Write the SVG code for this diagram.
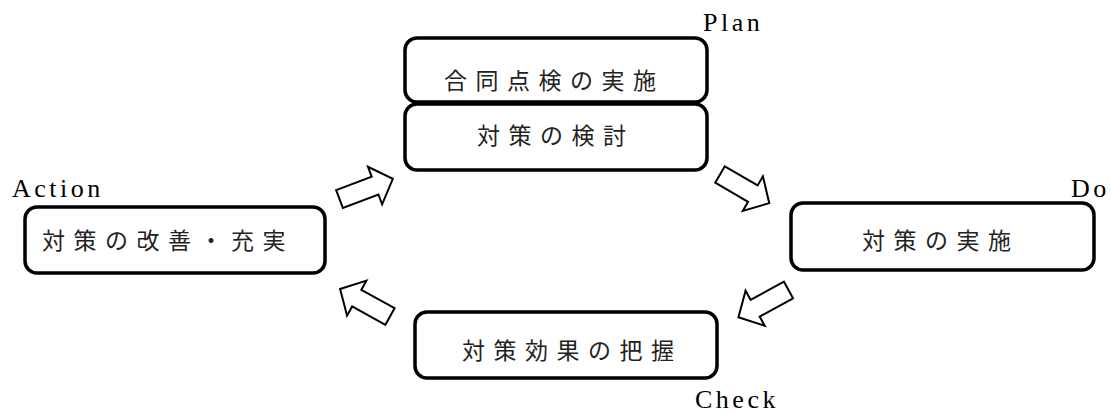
<svg xmlns="http://www.w3.org/2000/svg" width="1111" height="414" viewBox="0 0 1111 414">
<style>
.box{fill:#fff;stroke:#000;stroke-width:3.5}
.jp{font-family:"Noto Sans CJK JP","Noto Sans CJK SC",sans-serif;font-size:23px;letter-spacing:8.5px;fill:#222}
.lbl{font-family:"Liberation Serif",serif;font-size:26px;letter-spacing:3.5px;fill:#000}
.arr{fill:#fff;stroke:#000;stroke-width:2;stroke-linejoin:miter}
</style>
<defs>
<polygon id="blk" points="0,-9.5 38,-9.5 38,-20 57,0 38,20 38,9.5 0,9.5"/>
</defs>
<rect width="1111" height="414" fill="#fff"/>
<g id="plan">
<rect class="box" x="405" y="38" width="302" height="64" rx="12"/>
<text class="jp" x="444" y="89">合同点検の実施</text>
<rect class="box" x="405" y="104" width="302" height="66" rx="12"/>
<text class="jp" x="477" y="144">対策の検討</text>
<text class="lbl" x="703" y="31">Plan</text>
</g>
<g id="do">
<rect class="box" x="791" y="203" width="303" height="67" rx="12"/>
<text class="jp" x="862" y="249">対策の実施</text>
<text class="lbl" x="1071" y="197">Do</text>
</g>
<g id="check">
<rect class="box" x="415" y="312" width="302" height="66" rx="12"/>
<text class="jp" x="462" y="359">対策効果の把握</text>
<text class="lbl" x="695" y="408">Check</text>
</g>
<g id="action">
<rect class="box" x="25" y="207" width="300" height="66" rx="12"/>
<text class="jp" x="42" y="249">対策の改善・充実</text>
<text class="lbl" x="12" y="197">Action</text>
</g>
<g id="connectors">
<use href="#blk" class="arr" transform="translate(339.5,199) rotate(-20.7)"/>
<use href="#blk" class="arr" transform="translate(720,174.5) rotate(30.2)"/>
<use href="#blk" class="arr" transform="translate(788.5,290) rotate(151.4)"/>
<use href="#blk" class="arr" transform="translate(390,316.5) rotate(208.9)"/>
</g>
</svg>
